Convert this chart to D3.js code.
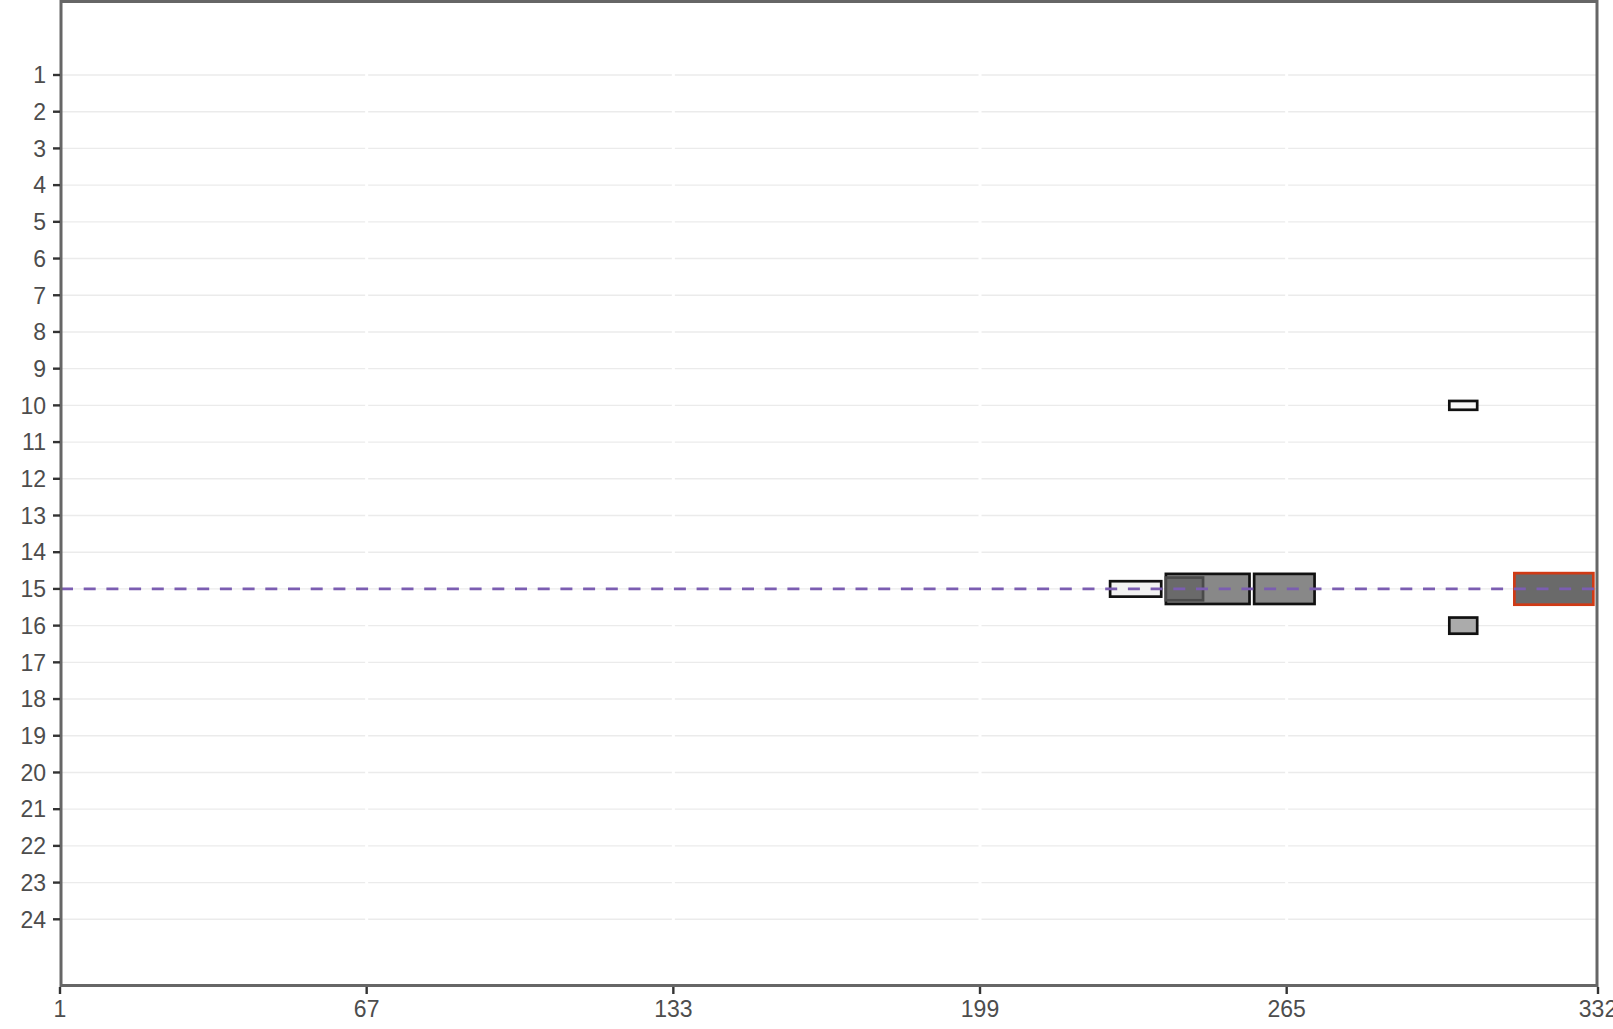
<!DOCTYPE html>
<html><head><meta charset="utf-8">
<script src="https://cdn.jsdelivr.net/npm/d3@7"></script>
<style>body{margin:0;background:#fff}svg{display:block}</style>
</head><body>
<script>
// Data
const yTicks = d3.range(1, 25);
const xTicks = [1, 67, 133, 199, 265, 332];
const refRow = 15;
// boxes: start, end, row, half-height (in row units)
const boxStart = [227, 239, 239, 258, 300, 300, 314];
const boxEnd   = [238, 257, 247, 271, 306, 306, 331];
const boxRow   = [15, 15, 15, 15, 10, 16, 15];
const boxHalf  = [0.21, 0.41, 0.31, 0.41, 0.12, 0.22, 0.43];
const boxFill  = ["#f2f2f2", "#888888", "#6a6a6a", "#888888", "#f7f7f7", "#ababab", "#6a6a6a"];
const boxStroke= ["#111", "#111", "#4a4a4a", "#111", "#111", "#111", "#d03a15"];

const W = 1613, H = 1029;
const svg = d3.select("body").append("svg").attr("width", W).attr("height", H);
const x = d3.scaleLinear().domain([1, 332]).range([60, 1598]);
const y = d3.scaleLinear().domain([1, 24]).range([75, 919.3]);
const pTop = 1.5, pBottom = 985.5, pLeft = 61, pRight = 1597;

// horizontal gridlines
svg.append("g").selectAll("line").data(yTicks).join("line")
  .attr("x1", pLeft).attr("x2", pRight).attr("y1", d => y(d)).attr("y2", d => y(d))
  .attr("stroke", "#ebebeb").attr("stroke-width", 1.4);
// vertical (white) gridlines
svg.append("g").selectAll("line").data(xTicks.slice(1, -1)).join("line")
  .attr("x1", d => x(d)).attr("x2", d => x(d)).attr("y1", pTop).attr("y2", pBottom)
  .attr("stroke", "#fff").attr("stroke-width", 3);

// boxes
const boxes = boxStart.map((s, i) => ({s, e: boxEnd[i], r: boxRow[i], h: boxHalf[i], f: boxFill[i], st: boxStroke[i]}));
svg.append("g").selectAll("rect").data(boxes).join("rect")
  .attr("x", d => x(d.s)).attr("width", d => x(d.e) - x(d.s))
  .attr("y", d => y(d.r - d.h)).attr("height", d => y(d.r + d.h) - y(d.r - d.h))
  .attr("fill", d => d.f).attr("stroke", d => d.st).attr("stroke-width", 2.7);

// reference dashed line
svg.append("line").attr("x1", pLeft).attr("x2", pRight).attr("y1", y(refRow)).attr("y2", y(refRow))
  .attr("stroke", "#7b5db1").attr("stroke-width", 2.7).attr("stroke-dasharray", "12,10.7");

// panel border
svg.append("rect").attr("x", pLeft).attr("y", pTop).attr("width", pRight - pLeft).attr("height", pBottom - pTop)
  .attr("fill", "none").attr("stroke", "#666").attr("stroke-width", 3);

// y axis
const ya = svg.append("g");
ya.selectAll("line").data(yTicks).join("line")
  .attr("x1", 53).attr("x2", 60).attr("y1", d => y(d)).attr("y2", d => y(d))
  .attr("stroke", "#333").attr("stroke-width", 2.4);
ya.selectAll("text").data(yTicks).join("text")
  .attr("x", 46).attr("y", d => y(d)).attr("dy", "0.36em").attr("text-anchor", "end")
  .attr("font-family", "Liberation Sans, Arial, sans-serif").attr("font-size", 23).attr("fill", "#4d4d4d")
  .text(d => d);

// x axis
const xa = svg.append("g");
xa.selectAll("line").data(xTicks).join("line")
  .attr("x1", d => x(d)).attr("x2", d => x(d)).attr("y1", 987).attr("y2", 994)
  .attr("stroke", "#333").attr("stroke-width", 2.4);
xa.selectAll("text").data(xTicks).join("text")
  .attr("x", d => x(d)).attr("y", 1017).attr("text-anchor", "middle")
  .attr("font-family", "Liberation Sans, Arial, sans-serif").attr("font-size", 23).attr("fill", "#4d4d4d")
  .text(d => d);
</script>
</body></html>
